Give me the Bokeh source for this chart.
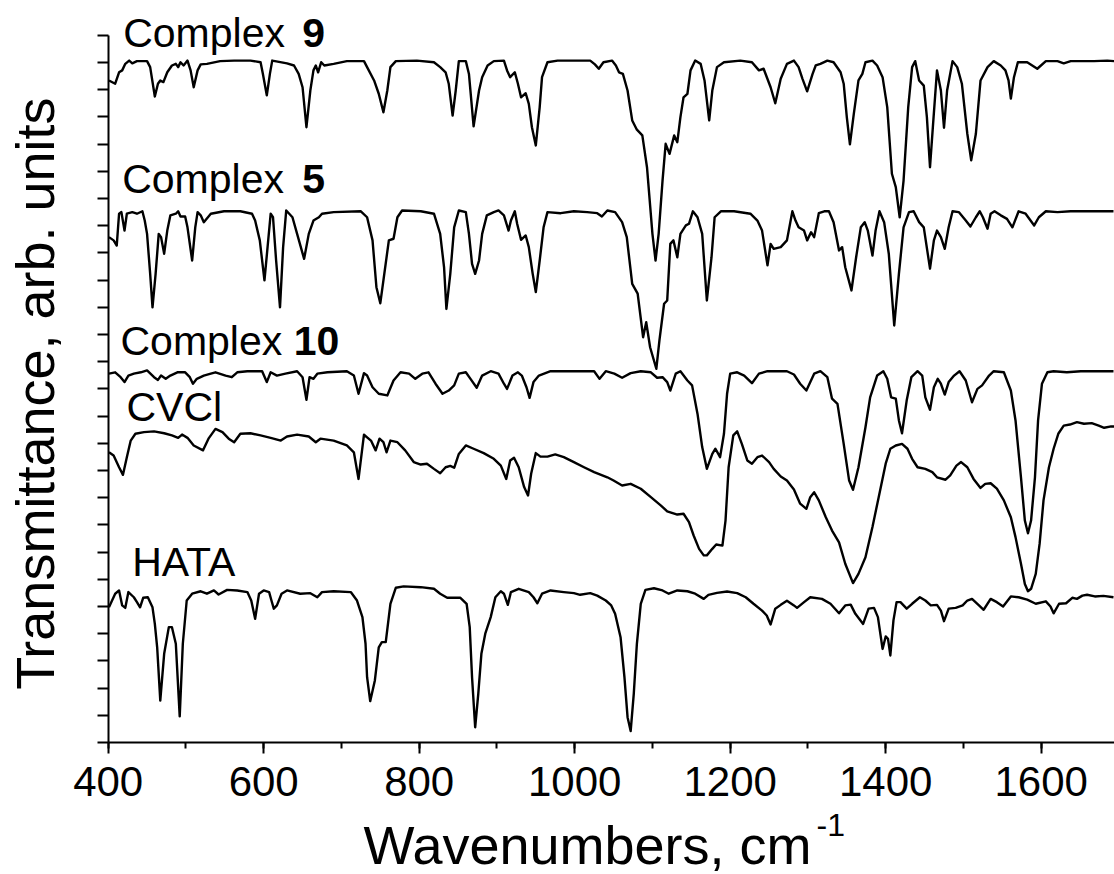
import math
from bokeh.plotting import figure
from bokeh.models import Label, SingleIntervalTicker, Range1d, CustomJSTickFormatter
from bokeh.embed import file_html
from bokeh.resources import INLINE

FONT = "Liberation Sans"

# (wavenumber cm-1, transmittance in arb. units incl. vertical offset)
complex9 = [(401,24.34),(409,24.22),(414,24.64),(418,24.71),(422,24.95),(427,25.07),(431,24.97),(437,25.05),(450,25.05),(454,24.83),(460,23.75),(464,24.22),(467,24.34),(471,24.28),(476,24.64),(482,24.89),(487,24.95),(490,24.83),(493,25.01),(497,24.89),(502,25.07),(506,24.71),(510,24.09),(515,24.71),(519,24.93),(527,24.95),(544,25.05),(562,25.07),(583,25.07),(596,25.01),(599,24.58),(604,23.79),(608,24.58),(611,25.07),(630,24.97),(639,24.89),(645,24.58),(650,24.09),(655,22.62),(660,23.97),(664,24.71),(667,24.89),(670,24.64),(674,25.01),(678,24.89),(690,24.95),(707,25.05),(729,25.05),(733,24.83),(742,24.34),(748,23.85),(754,23.17),(759,23.97),(763,24.83),(770,25.05),(797,25.07),(819,25.01),(827,24.83),(834,24.64),(838,24.22),(843,23.05),(847,23.97),(851,25.05),(860,25.05),(864,24.58),(870,22.65),(877,23.97),(881,24.46),(888,24.89),(896,25.05),(909,25.07),(913,24.71),(917,24.46),(923,24.64),(927,24.22),(931,23.72),(937,23.87),(941,23.48),(945,22.62),(950,21.95),(955,23.36),(958,24.46),(965,25.01),(978,25.07),(1020,25.07),(1026,24.93),(1031,24.77),(1037,25.01),(1048,25.07),(1053,24.89),(1057,24.64),(1062,24.58),(1068,23.97),(1074,22.87),(1080,22.53),(1087,22.32),(1093,21.15),(1100,18.70),(1104,17.72),(1108,18.70),(1113,20.66),(1117,22.01),(1122,21.64),(1128,22.32),(1132,22.07),(1136,22.99),(1140,23.72),(1145,23.85),(1149,24.71),(1155,25.07),(1162,24.95),(1167,24.34),(1173,22.87),(1177,23.97),(1183,24.83),(1192,25.01),(1213,25.07),(1228,25.01),(1237,24.71),(1243,24.77),(1252,24.09),(1258,23.50),(1265,24.40),(1273,24.95),(1282,25.07),(1288,24.83),(1293,24.40),(1299,23.94),(1306,24.58),(1310,24.89),(1316,24.95),(1325,25.07),(1333,25.01),(1342,24.64),(1346,24.22),(1350,22.99),(1354,21.99),(1359,23.11),(1365,24.34),(1370,24.58),(1374,25.01),(1383,25.07),(1389,24.89),(1396,24.46),(1402,23.36),(1408,20.91),(1413,20.42),(1418,19.31),(1423,20.66),(1429,23.36),(1434,24.83),(1438,25.05),(1443,24.34),(1449,24.15),(1453,22.99),(1457,21.15),(1461,22.75),(1466,24.71),(1471,23.97),(1475,22.60),(1479,23.97),(1486,25.05),(1492,24.83),(1498,24.22),(1505,22.38),(1510,21.40),(1516,22.38),(1522,24.34),(1531,24.83),(1539,25.05),(1548,24.89),(1554,24.71),(1558,24.34),(1561,23.67),(1565,24.46),(1570,25.01),(1582,25.01),(1595,24.77),(1606,25.05),(1621,25.05),(1629,24.97),(1638,25.05),(1651,25.05),(1668,25.05),(1685,25.07),(1694,25.05)]

complex5 = [(401,18.58),(407,18.46),(411,18.27),(414,19.44),(417,19.50),(421,18.82),(424,19.44),(431,19.50),(437,19.44),(444,19.53),(447,19.19),(450,18.70),(454,17.23),(457,16.00),(461,17.23),(465,18.70),(468,18.58),(472,17.97),(476,18.82),(480,19.38),(487,19.44),(490,19.53),(493,19.34),(499,19.34),(502,18.94),(508,17.72),(512,18.94),(515,19.50),(519,19.38),(523,19.13),(532,19.44),(549,19.53),(570,19.53),(585,19.44),(589,19.19),(595,18.46),(601,16.99),(605,18.21),(609,19.44),(612,19.31),(616,17.72),(621,16.00),(625,18.21),(629,19.56),(637,19.31),(643,18.70),(652,17.78),(658,18.70),(664,19.19),(671,19.31),(675,19.44),(690,19.50),(725,19.53),(733,19.31),(740,18.46),(745,16.74),(750,16.15),(754,16.99),(761,18.46),(767,18.52),(772,19.31),(778,19.56),(802,19.53),(819,19.44),(827,18.70),(832,17.47),(835,15.94),(840,17.23),(845,18.94),(851,19.56),(860,19.50),(864,18.70),(868,17.60),(872,17.23),(877,17.72),(881,18.70),(887,19.38),(896,19.50),(902,19.56),(909,19.38),(915,18.82),(918,19.19),(923,19.53),(926,19.07),(931,18.48),(937,18.64),(941,18.21),(946,17.23),(950,16.56),(955,17.72),(960,18.94),(965,19.50),(982,19.46),(999,19.53),(1016,19.50),(1029,19.46),(1035,19.34),(1042,19.56),(1052,19.50),(1061,19.13),(1067,18.58),(1074,16.86),(1081,16.50),(1088,14.90),(1092,15.45),(1097,14.53),(1105,13.74),(1109,14.78),(1115,16.13),(1119,16.25),(1123,18.33),(1127,18.46),(1132,17.84),(1136,18.70),(1143,19.01),(1147,19.07),(1152,19.53),(1158,19.31),(1164,18.70),(1170,16.25),(1176,17.84),(1180,19.31),(1188,19.53),(1205,19.53),(1226,19.44),(1235,19.19),(1241,18.82),(1248,17.54),(1252,18.33),(1256,18.15),(1265,18.21),(1273,18.46),(1280,19.53),(1284,19.19),(1288,18.94),(1295,18.82),(1299,18.46),(1304,18.76),(1308,18.58),(1314,19.46),(1321,19.53),(1327,19.53),(1333,19.13),(1340,18.09),(1344,18.21),(1348,17.47),(1356,16.62),(1362,17.84),(1368,18.94),(1373,19.13),(1377,18.82),(1383,17.90),(1387,18.82),(1392,19.53),(1398,19.13),(1404,17.97),(1411,15.33),(1417,17.23),(1423,18.94),(1430,19.50),(1436,19.53),(1443,19.13),(1449,18.94),(1457,17.42),(1462,18.46),(1466,18.82),(1471,18.58),(1476,18.15),(1481,18.94),(1486,19.53),(1494,19.50),(1503,19.19),(1509,18.97),(1516,19.31),(1521,19.53),(1525,19.31),(1531,18.89),(1535,19.44),(1540,19.53),(1548,19.38),(1556,19.25),(1563,18.94),(1571,19.53),(1580,19.44),(1591,19.01),(1597,19.31),(1606,19.53),(1621,19.50),(1638,19.53),(1659,19.53),(1676,19.53),(1693,19.53)]

complex10 = [(401,13.56),(409,13.61),(416,13.43),(421,13.25),(426,13.49),(433,13.56),(442,13.61),(450,13.68),(459,13.43),(464,13.33),(468,13.49),(474,13.37),(480,13.49),(489,13.61),(499,13.61),(505,13.43),(509,13.19),(514,13.37),(523,13.49),(532,13.56),(538,13.61),(551,13.49),(559,13.43),(566,13.61),(579,13.65),(598,13.65),(604,13.25),(609,13.61),(617,13.49),(628,13.56),(643,13.65),(650,13.43),(655,12.60),(659,13.43),(664,13.37),(669,13.56),(682,13.61),(707,13.65),(716,13.49),(722,12.82),(729,13.58),(733,13.49),(740,13.06),(748,12.82),(759,12.76),(767,13.31),(776,13.61),(787,13.56),(795,13.37),(804,13.56),(812,13.61),(821,13.19),(830,12.82),(838,12.94),(845,13.13),(851,13.56),(860,13.61),(866,13.37),(874,13.04),(881,13.49),(892,13.65),(902,13.56),(909,13.19),(913,13.00),(920,13.49),(927,13.61),(932,13.49),(938,13.06),(942,12.67),(947,13.25),(954,13.49),(969,13.65),(999,13.65),(1025,13.65),(1032,13.37),(1040,13.65),(1051,13.56),(1061,13.41),(1072,13.58),(1085,13.65),(1098,13.61),(1106,13.41),(1113,13.43),(1119,13.25),(1123,12.94),(1130,13.56),(1136,13.65),(1145,13.31),(1151,13.13),(1158,12.08),(1164,10.86),(1170,10.06),(1177,10.61),(1181,10.80),(1187,10.49),(1192,11.35),(1196,12.82),(1200,13.56),(1209,13.61),(1218,13.49),(1228,13.21),(1237,13.56),(1248,13.65),(1273,13.65),(1282,13.53),(1290,13.19),(1298,12.94),(1308,13.56),(1316,13.65),(1325,13.43),(1331,12.64),(1338,12.45),(1346,10.98),(1353,9.63),(1358,9.29),(1365,10.12),(1374,11.59),(1380,12.69),(1389,13.49),(1397,13.65),(1402,13.37),(1407,12.69),(1413,12.64),(1417,11.84),(1421,11.37),(1427,12.57),(1433,13.43),(1441,13.65),(1447,13.49),(1451,12.69),(1457,12.23),(1462,13.06),(1467,13.37),(1471,13.19),(1476,12.79),(1481,13.25),(1488,13.49),(1495,13.65),(1503,13.31),(1511,12.51),(1518,13.00),(1524,13.13),(1533,13.49),(1539,13.65),(1552,13.61),(1561,12.94),(1567,11.84),(1574,9.75),(1579,8.16),(1583,7.69),(1587,8.16),(1592,9.75),(1596,11.84),(1601,13.19),(1608,13.61),(1616,13.65),(1633,13.61),(1651,13.65),(1672,13.65),(1693,13.65)]

cvcl = [(401,10.67),(407,10.55),(414,10.12),(419,9.84),(424,10.49),(429,11.10),(435,11.35),(446,11.41),(459,11.44),(472,11.37),(482,11.29),(490,11.20),(495,11.32),(502,11.20),(510,10.92),(522,10.74),(529,11.17),(538,11.53),(547,11.41),(555,11.17),(562,11.04),(570,11.35),(583,11.37),(596,11.29),(609,11.20),(622,11.10),(630,11.25),(643,11.32),(658,11.25),(667,11.04),(673,11.17),(690,11.10),(707,10.92),(716,10.67),(722,9.69),(729,11.32),(733,11.22),(738,11.10),(744,10.74),(749,11.17),(754,11.04),(758,10.67),(763,11.10),(772,11.04),(782,10.74),(793,10.31),(802,10.22),(810,10.25),(819,10.06),(827,9.90),(834,10.12),(840,10.17),(845,10.10),(851,10.61),(860,10.92),(870,10.80),(883,10.64),(896,10.43),(905,10.18),(912,9.69),(917,10.37),(922,10.47),(928,10.12),(935,9.39),(940,9.08),(944,9.88),(950,10.64),(956,10.51),(965,10.51),(975,10.59),(986,10.49),(999,10.31),(1012,10.12),(1025,9.94),(1042,9.75),(1050,9.63),(1061,9.45),(1072,9.51),(1085,9.33),(1098,9.02),(1111,8.71),(1119,8.50),(1132,8.38),(1140,8.41),(1147,8.10),(1153,7.61),(1160,7.12),(1166,6.88),(1170,6.88),(1177,7.12),(1182,7.28),(1190,7.24),(1194,8.16),(1198,10.12),(1204,11.29),(1209,11.44),(1215,10.98),(1222,10.37),(1228,10.25),(1235,10.49),(1241,10.55),(1250,10.31),(1256,10.06),(1265,9.78),(1273,9.63),(1282,9.30),(1290,8.78),(1298,8.59),(1303,9.02),(1308,9.20),(1314,8.90),(1323,8.28),(1331,7.79),(1340,7.36),(1348,6.57),(1358,5.86),(1365,6.20),(1374,6.81),(1383,7.92),(1391,9.02),(1400,10.25),(1406,10.80),(1413,10.92),(1421,10.98),(1428,10.80),(1434,10.43),(1441,10.12),(1451,10.06),(1460,9.94),(1466,9.75),(1477,9.66),(1483,9.82),(1491,10.18),(1497,10.31),(1505,10.12),(1513,9.69),(1522,9.36),(1528,9.51),(1535,9.53),(1543,9.33),(1552,8.90),(1561,8.28),(1567,7.55),(1574,6.57),(1579,5.83),(1583,5.56),(1587,5.65),(1593,6.20),(1598,7.31),(1603,8.90),(1610,10.12),(1616,10.80),(1622,11.35),(1629,11.65),(1637,11.69),(1646,11.78),(1655,11.72),(1665,11.74),(1674,11.65),(1681,11.57),(1690,11.62),(1694,11.62)]

hata = [(401,4.97),(405,5.22),(409,5.47),(414,5.59),(418,5.04),(422,4.95),(426,5.53),(433,5.34),(437,5.16),(441,4.97),(445,5.32),(451,5.34),(457,4.97),(460,4.36),(463,3.50),(467,1.54),(472,3.26),(478,4.24),(482,4.24),(487,3.63),(492,0.96),(496,3.63),(501,5.22),(508,5.47),(519,5.56),(527,5.47),(536,5.59),(542,5.44),(553,5.61),(566,5.59),(579,5.53),(584,5.22),(589,4.55),(594,5.47),(600,5.59),(607,5.53),(610,5.22),(613,4.92),(617,5.04),(623,5.47),(630,5.59),(647,5.47),(660,5.49),(669,5.34),(675,5.53),(690,5.56),(712,5.53),(720,5.22),(727,4.61),(731,3.63),(733,2.40),(737,1.52),(743,2.28),(748,3.50),(752,3.69),(757,3.69),(763,5.10),(770,5.69),(780,5.74),(802,5.71),(819,5.65),(827,5.47),(836,5.32),(853,5.32),(861,5.10),(865,4.24),(868,2.40),(872,0.56),(876,1.79),(880,3.26),(885,4.00),(892,4.61),(898,5.34),(905,5.56),(909,5.47),(914,5.06),(918,5.53),(928,5.65),(941,5.53),(947,5.34),(952,5.12),(958,5.47),(969,5.59),(986,5.53),(999,5.49),(1007,5.43),(1020,5.49),(1029,5.40),(1040,5.22),(1047,5.04),(1052,4.73),(1059,3.87),(1064,2.40),(1068,0.93),(1072,0.42),(1076,1.79),(1080,3.63),(1085,5.10),(1091,5.61),(1102,5.67),(1113,5.59),(1121,5.47),(1132,5.59),(1145,5.56),(1155,5.47),(1166,5.28),(1172,5.43),(1183,5.50),(1196,5.55),(1209,5.49),(1220,5.34),(1230,5.10),(1241,4.85),(1247,4.67),(1252,4.34),(1258,4.92),(1265,5.06),(1273,5.21),(1282,5.04),(1286,4.95),(1295,5.16),(1303,5.34),(1318,5.28),(1329,5.10),(1340,4.75),(1348,5.04),(1355,5.07),(1361,4.73),(1371,4.36),(1378,4.92),(1385,4.95),(1390,4.61),(1396,3.44),(1400,3.90),(1403,3.81),(1406,3.20),(1410,4.49),(1414,5.16),(1419,5.16),(1427,4.92),(1434,5.10),(1444,5.34),(1451,5.22),(1458,5.04),(1466,5.06),(1471,4.85),(1475,4.46),(1481,4.92),(1490,4.95),(1499,5.04),(1505,5.22),(1511,5.28),(1520,5.04),(1526,4.88),(1535,5.28),(1543,5.16),(1551,5.00),(1561,5.37),(1571,5.34),(1582,5.25),(1593,5.10),(1606,5.19),(1612,5.00),(1616,4.75),(1623,5.10),(1632,5.12),(1640,5.32),(1646,5.28),(1653,5.40),(1659,5.43),(1669,5.37),(1680,5.39),(1693,5.34)]

spectra = [complex9, complex5, complex10, cvcl, hata]

# axis extents (data units)
x_axis_start, x_axis_end = 400, 1694.3
y_axis_start, y_axis_end = 0, 26
x_tick_interval = 200

# the frame covers the whole canvas; axes are pinned at x=400 / y=0
p = figure(width=1114, height=874, output_backend="svg", toolbar_location=None,
           title=None, min_border=0,
           x_range=Range1d(261.5, x_axis_end), y_range=Range1d(-4.853, 27.279))
p.outline_line_color = None
p.xgrid.visible = False
p.ygrid.visible = False
p.background_fill_color = "white"
p.border_fill_color = "white"

for s in spectra:
    xs = [a for a, b in s]
    ys = [b for a, b in s]
    p.line(xs, ys, line_color="black", line_width=2.4, line_join="round")

# x axis
xa = p.xaxis[0]
xa.fixed_location = y_axis_start
xa.bounds = (x_axis_start, x_axis_end)
xa.ticker = SingleIntervalTicker(interval=x_tick_interval, num_minor_ticks=2)
xa.axis_line_width = 2
xa.major_tick_line_width = 2
xa.minor_tick_line_width = 2
xa.major_tick_out = 11
xa.major_tick_in = 0
xa.minor_tick_out = 6
xa.minor_tick_in = 0
xa.major_label_text_font = FONT
xa.major_label_text_font_size = "42px"
xa.major_label_text_color = "black"
xa.major_label_standoff = 14

# y axis (ticks only)
ya = p.yaxis[0]
ya.fixed_location = x_axis_start
ya.bounds = (y_axis_start, y_axis_end)
ya.ticker = SingleIntervalTicker(interval=1, num_minor_ticks=0)
ya.formatter = CustomJSTickFormatter(code="return ''")
ya.axis_line_width = 2
ya.major_tick_line_width = 2
ya.major_tick_out = 11
ya.major_tick_in = 0
ya.minor_tick_out = 0
ya.major_label_standoff = 0

def lab(text, x, y, size, bold=False, **kw):
    p.add_layout(Label(x=x, y=y, text=text, text_font=FONT, text_font_size=size,
                       text_font_style="bold" if bold else "normal",
                       text_color="black", text_baseline="alphabetic", **kw))

# spectrum labels
lab("Complex", 419.3, 26.10, "41px")
lab("9", 649.5, 26.10, "41px", bold=True)
lab("Complex", 418.0, 20.71, "41px")
lab("5", 649.5, 20.71, "41px", bold=True)
lab("Complex", 415.8, 14.77, "41px")
lab("10", 638.7, 14.77, "41px", bold=True)
lab("CVCl", 423.5, 12.32, "41px")
lab("HATA", 430.9, 6.64, "41px")

# axis titles
lab("Wavenumbers, cm", 728.3, -3.775, "54px")
lab("-1", 1311.0, -3.04, "32px")
lab("Transmittance, arb. units", 306.5, 12.83, "54px", angle=math.pi / 2, text_align="center")

open("out.html", "w").write(file_html(p, INLINE))
